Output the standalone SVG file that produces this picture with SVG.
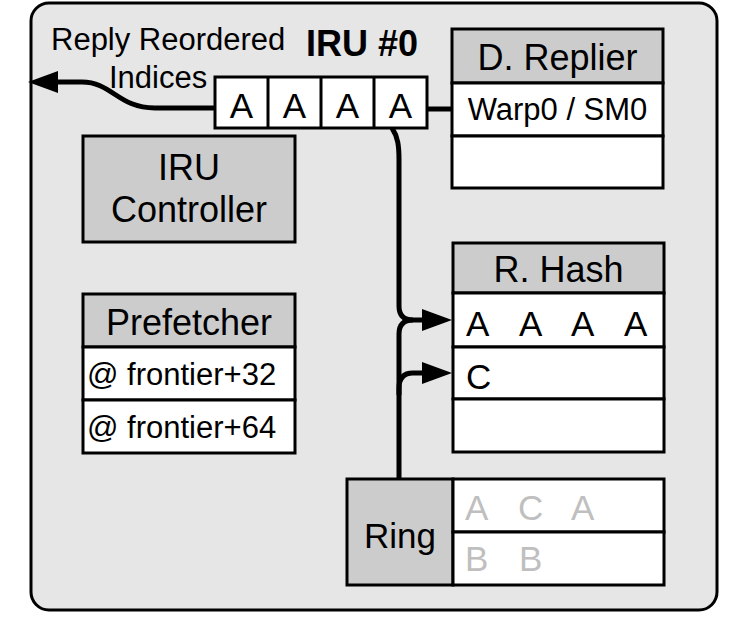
<svg xmlns="http://www.w3.org/2000/svg" width="748" height="644" viewBox="0 0 748 644">
<style>
text{font-family:"Liberation Sans",Arial,sans-serif;fill:#000}
.box{stroke:#000;stroke-width:3}
.hdr{fill:#cccccc}
.wht{fill:#ffffff}
.t36{font-size:36px}
.t31{font-size:31px}
.t35{font-size:35px}
.g{fill:#bfbfbf}
.mid{text-anchor:middle}
.wire{fill:none;stroke:#000;stroke-width:5}
</style>
<defs>
<marker id="ah" markerUnits="userSpaceOnUse" markerWidth="32" markerHeight="22" refX="8" refY="11" orient="auto">
<path d="M0,0 L30,11 L0,22 Z" fill="#000"/>
</marker>
</defs>
<g id="iru">
<rect x="31" y="3" width="686" height="607" rx="18" ry="18" fill="#e6e6e6" stroke="#000" stroke-width="3"/>
<text x="306" y="56" font-size="36" font-weight="bold">IRU #0</text>
<text x="51" y="50" class="t31">Reply Reordered</text>
<text x="109" y="88" class="t31" font-size="30">Indices</text>
</g>
<g id="connectors">
<path class="wire" d="M215,108 L155,108 C118,108 112,82 82,82 L50,82" marker-end="url(#ah)"/>
<path class="wire" d="M427,109 L452,109"/>
<path class="wire" d="M392,128 C398,137 399,146 399,160 L399,306 Q399,320 413,320 L430,320" marker-end="url(#ah)"/>
<path class="wire" d="M399,479 L399,388 Q399,373 413,373 L430,373" marker-end="url(#ah)"/>
<path class="wire" d="M399,395 L399,334 Q399,320 413,320"/>
</g>
<g id="buffer">
<rect class="box wht" x="215" y="77" width="212" height="51"/>
<path class="box" d="M268,77 V128 M321,77 V128 M374,77 V128"/>
<text class="t35 mid" x="241.5" y="118">A</text>
<text class="t35 mid" x="294.5" y="118">A</text>
<text class="t35 mid" x="347.5" y="118">A</text>
<text class="t35 mid" x="400.5" y="118">A</text>
</g>
<g id="replier">
<rect class="box hdr" x="452" y="29" width="211" height="54"/>
<rect class="box wht" x="452" y="83" width="211" height="53"/>
<rect class="box wht" x="452" y="136" width="211" height="52"/>
<text class="t36 mid" x="557.5" y="70">D. Replier</text>
<text class="t31 mid" x="557.5" y="120">Warp0 / SM0</text>
</g>
<g id="controller">
<rect class="box hdr" x="83" y="136" width="212" height="106"/>
<text class="t36 mid" x="189" y="180">IRU</text>
<text class="t36 mid" x="189" y="222">Controller</text>
</g>
<g id="prefetcher">
<rect class="box hdr" x="83" y="294" width="212" height="53"/>
<rect class="box wht" x="83" y="347" width="212" height="53"/>
<rect class="box wht" x="83" y="400" width="212" height="53"/>
<text class="t36 mid" x="189" y="335">Prefetcher</text>
<text class="t31" x="87" y="385">@ frontier+32</text>
<text class="t31" x="87" y="438">@ frontier+64</text>
</g>
<g id="hash">
<rect class="box hdr" x="453" y="243" width="211" height="50"/>
<rect class="box wht" x="453" y="293" width="211" height="54"/>
<rect class="box wht" x="453" y="347" width="211" height="52"/>
<rect class="box wht" x="453" y="399" width="211" height="53"/>
<text class="t36 mid" x="558.5" y="282">R. Hash</text>
<text class="t35" x="466" y="336">A</text>
<text class="t35" x="519" y="336">A</text>
<text class="t35" x="571" y="336">A</text>
<text class="t35" x="624" y="336">A</text>
<text class="t35" x="466" y="389">C</text>
</g>
<g id="ring">
<rect class="box hdr" x="347" y="479" width="106" height="106"/>
<rect class="box wht" x="453" y="479" width="211" height="53"/>
<rect class="box wht" x="453" y="532" width="211" height="53"/>
<text class="t35 mid" x="400" y="548">Ring</text>
<text class="t35 g" x="465" y="520">A</text>
<text class="t35 g" x="518" y="520">C</text>
<text class="t35 g" x="571" y="520">A</text>
<text class="t35 g" x="465" y="571">B</text>
<text class="t35 g" x="519" y="571">B</text>
</g>
</svg>
